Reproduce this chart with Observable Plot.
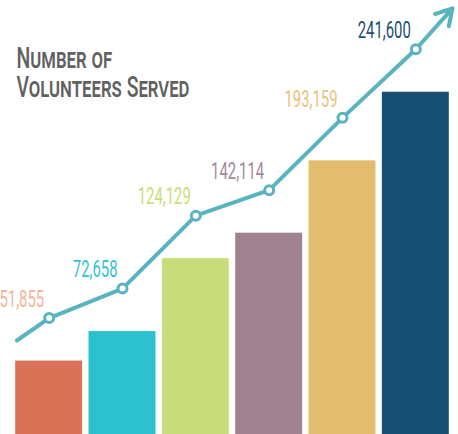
<!DOCTYPE html>
<html>
<head>
<meta charset="utf-8">
<script src="https://cdn.jsdelivr.net/npm/d3@7"></script>
<script src="https://cdn.jsdelivr.net/npm/@observablehq/plot@0.6"></script>
<style>
  html, body { margin: 0; padding: 0; background: #fff; }
  #chart svg { display: block; }
</style>
</head>
<body>
<div id="chart"></div>
<script>
const categories = ["1", "2", "3", "4", "5", "6"];
const values = [51855, 72658, 124129, 142114, 193159, 241600];
const labels = ["51,855", "72,658", "124,129", "142,114", "193,159", "241,600"];
const barColors = ["#d97357", "#2dc0cf", "#c9dc7a", "#9f8390", "#e3bd6e", "#174f73"];
const labelColors = ["#f6b397", "#35c3d3", "#c9dd78", "#a5899a", "#e7c37b", "#1e4f74"];
const leadPoint = {i: -0.44, v: 36000};     // where the trend line enters
const tailPoint = {i: 5.5, v: 270500};      // arrow tip
const titleLines = ["Number of", "Volunteers Served"];

const data = categories.map((c, i) => ({c, i, v: values[i], label: labels[i], bar: barColors[i], lab: labelColors[i]}));
const linePts = [leadPoint, ...data];
const last = data[data.length - 1];

const lineColor = "#59b4c0";
const font = "Roboto, 'Liberation Sans', sans-serif";

const chart = Plot.plot({
  width: 458,
  height: 434,
  marginLeft: 12,
  marginRight: 6,
  marginTop: 9,
  marginBottom: 0,
  x: {domain: [-0.5, 5.5], axis: null},
  y: {domain: [0, 300000], axis: null},
  marks: [
    Plot.rectY(data, {x1: d => d.i - 0.5, x2: d => d.i + 0.5, y: "v", fill: "bar", insetLeft: 3.2, insetRight: 3.2}),
    Plot.line(linePts, {x: "i", y: "v", dy: -43, stroke: lineColor, strokeWidth: 4}),
    Plot.arrow([last], {x1: "i", y1: "v", x2: () => tailPoint.i, y2: () => tailPoint.v, dy: -43, stroke: lineColor, strokeWidth: 4, bend: 0, headLength: 16, insetEnd: 0}),
    Plot.dot(data, {x: "i", y: "v", dy: -43, r: 4.5, fill: "white", stroke: lineColor, strokeWidth: 3}),
    Plot.text(data, {x: "i", y: "v", text: "label", dy: -62, dx: -5, textAnchor: "end", fill: "lab", fontSize: 24, fontWeight: 400, fontFamily: font, className: "vlabel"}),
    Plot.text([titleLines.join("\n")], {frameAnchor: "top-left", dx: 4, dy: 38, lineAnchor: "top", lineHeight: 1.0, fontSize: 29, fontWeight: 500, fontVariant: "small-caps", fill: "#616161", fontFamily: font, className: "title"})
  ]
});
document.getElementById("chart").appendChild(chart);

// condensed look: squeeze the glyphs horizontally
d3.select(chart).selectAll("g.vlabel text").attr("transform", function () {
  return (this.getAttribute("transform") || "") + " scale(0.62,1)";
});
d3.select(chart).selectAll("g.title text").attr("transform", function () {
  return (this.getAttribute("transform") || "") + " scale(0.67,1)";
});
</script>
</body>
</html>
